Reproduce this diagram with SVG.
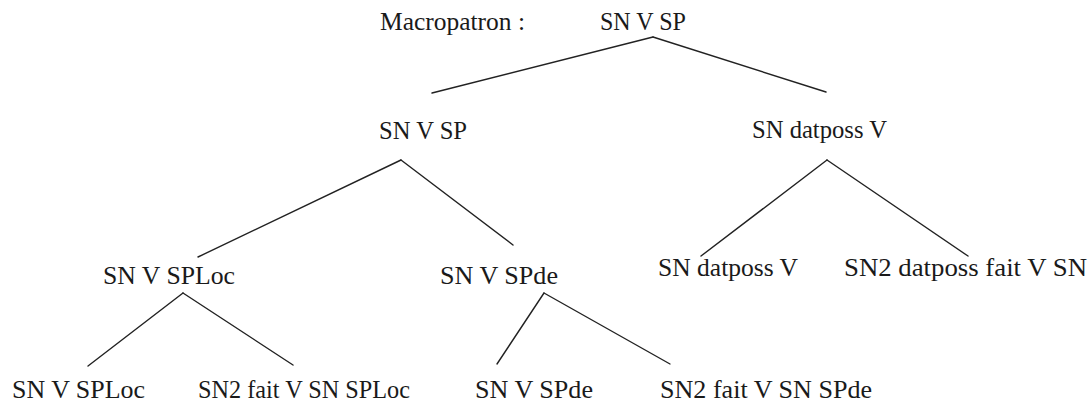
<svg xmlns="http://www.w3.org/2000/svg" width="1090" height="404" viewBox="0 0 1090 404">
<style>
text{font-family:"Liberation Serif","Times New Roman",serif;font-size:26px;fill:#1a1a1a}
.e line{stroke:#222;stroke-width:1.4;stroke-linecap:round}
</style>
<rect width="1090" height="404" fill="#fff"/>
<g id="label"><text x="380" y="30" textLength="145" lengthAdjust="spacingAndGlyphs">Macropatron :</text></g>
<g id="root"><text x="600" y="30" textLength="86" lengthAdjust="spacingAndGlyphs">SN V SP</text></g>
<g id="n2a"><text x="379" y="139" textLength="88" lengthAdjust="spacingAndGlyphs">SN V SP</text></g>
<g id="n2b"><text x="752" y="138" textLength="135" lengthAdjust="spacingAndGlyphs">SN datposs V</text></g>
<g id="n3a"><text x="103" y="284" textLength="132" lengthAdjust="spacingAndGlyphs">SN V SPLoc</text></g>
<g id="n3b"><text x="440" y="284" textLength="118" lengthAdjust="spacingAndGlyphs">SN V SPde</text></g>
<g id="n3c"><text x="658" y="276" textLength="140" lengthAdjust="spacingAndGlyphs">SN datposs V</text></g>
<g id="n3d"><text x="844" y="276" textLength="243" lengthAdjust="spacingAndGlyphs">SN2 datposs fait V SN</text></g>
<g id="n4a"><text x="12" y="398" textLength="133" lengthAdjust="spacingAndGlyphs">SN V SPLoc</text></g>
<g id="n4b"><text x="198" y="398" textLength="212" lengthAdjust="spacingAndGlyphs">SN2 fait V SN SPLoc</text></g>
<g id="n4c"><text x="475" y="398" textLength="118" lengthAdjust="spacingAndGlyphs">SN V SPde</text></g>
<g id="n4d"><text x="660" y="398" textLength="212" lengthAdjust="spacingAndGlyphs">SN2 fait V SN SPde</text></g>
<g id="edges" class="e">
<line x1="653" y1="37" x2="432" y2="93"/>
<line x1="653" y1="37" x2="826" y2="92"/>
<line x1="401" y1="160" x2="198" y2="257"/>
<line x1="401" y1="160" x2="513" y2="245"/>
<line x1="827" y1="160" x2="701" y2="256"/>
<line x1="827" y1="160" x2="968" y2="256"/>
<line x1="183" y1="293" x2="88" y2="366"/>
<line x1="183" y1="293" x2="293" y2="365"/>
<line x1="544" y1="293" x2="497" y2="364"/>
<line x1="544" y1="293" x2="670" y2="364"/>
</g>
</svg>
